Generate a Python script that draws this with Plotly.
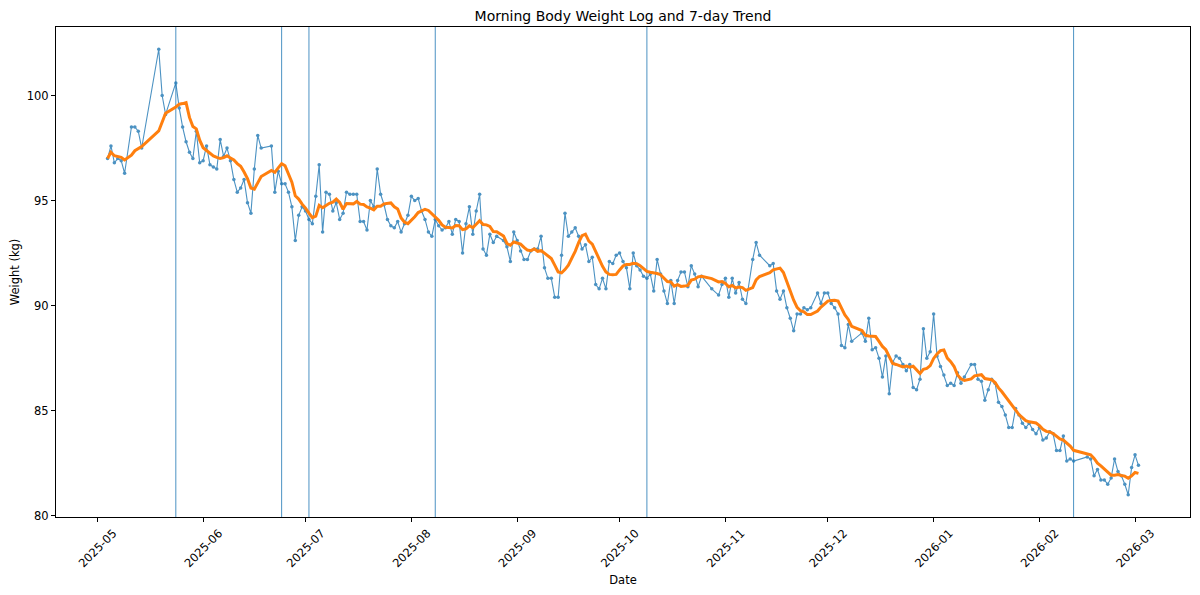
import pandas as pd
import plotly.graph_objects as go

# 每天早上的体重记录 (kg)
dates = [
    "2025-05-04", "2025-05-05", "2025-05-06", "2025-05-07", "2025-05-08", "2025-05-09",
    "2025-05-11", "2025-05-12", "2025-05-13", "2025-05-14", "2025-05-19", "2025-05-20",
    "2025-05-21", "2025-05-24", "2025-05-25", "2025-05-26", "2025-05-27", "2025-05-28",
    "2025-05-29", "2025-05-30", "2025-05-31",
    "2025-06-01", "2025-06-02", "2025-06-03", "2025-06-04", "2025-06-05", "2025-06-06",
    "2025-06-07", "2025-06-08", "2025-06-09", "2025-06-10", "2025-06-11", "2025-06-12",
    "2025-06-13", "2025-06-14", "2025-06-15", "2025-06-16", "2025-06-17", "2025-06-18",
    "2025-06-21", "2025-06-22", "2025-06-23", "2025-06-24", "2025-06-25", "2025-06-26",
    "2025-06-27", "2025-06-28", "2025-06-29", "2025-06-30",
    "2025-07-01", "2025-07-02", "2025-07-03", "2025-07-04", "2025-07-05", "2025-07-06",
    "2025-07-07", "2025-07-08", "2025-07-09", "2025-07-10", "2025-07-11", "2025-07-12",
    "2025-07-13", "2025-07-14", "2025-07-15", "2025-07-16", "2025-07-17", "2025-07-18",
    "2025-07-19", "2025-07-20", "2025-07-21", "2025-07-22", "2025-07-23", "2025-07-24",
    "2025-07-25", "2025-07-26", "2025-07-27", "2025-07-28", "2025-07-29", "2025-07-30",
    "2025-07-31",
    "2025-08-01", "2025-08-02", "2025-08-03", "2025-08-04", "2025-08-05", "2025-08-06",
    "2025-08-07", "2025-08-08", "2025-08-09", "2025-08-10", "2025-08-11", "2025-08-12",
    "2025-08-13", "2025-08-14", "2025-08-15", "2025-08-16", "2025-08-17", "2025-08-18",
    "2025-08-19", "2025-08-20", "2025-08-21", "2025-08-22", "2025-08-23", "2025-08-24",
    "2025-08-25", "2025-08-26", "2025-08-28", "2025-08-29", "2025-08-30", "2025-08-31",
    "2025-09-01", "2025-09-02", "2025-09-03", "2025-09-04", "2025-09-05", "2025-09-06",
    "2025-09-07", "2025-09-08", "2025-09-09", "2025-09-10", "2025-09-11", "2025-09-12",
    "2025-09-13", "2025-09-14", "2025-09-15", "2025-09-16", "2025-09-17", "2025-09-18",
    "2025-09-19", "2025-09-20", "2025-09-21", "2025-09-22", "2025-09-23", "2025-09-24",
    "2025-09-25", "2025-09-26", "2025-09-27", "2025-09-28", "2025-09-29", "2025-09-30",
    "2025-10-01", "2025-10-02", "2025-10-03", "2025-10-04", "2025-10-05", "2025-10-06",
    "2025-10-07", "2025-10-08", "2025-10-09", "2025-10-10", "2025-10-11", "2025-10-12",
    "2025-10-13", "2025-10-14", "2025-10-15", "2025-10-16", "2025-10-17", "2025-10-18",
    "2025-10-19", "2025-10-20", "2025-10-21", "2025-10-22", "2025-10-23", "2025-10-24",
    "2025-10-25", "2025-10-28", "2025-10-30", "2025-10-31",
    "2025-11-01", "2025-11-02", "2025-11-03", "2025-11-04", "2025-11-05", "2025-11-06",
    "2025-11-07", "2025-11-09", "2025-11-10", "2025-11-11", "2025-11-14", "2025-11-15",
    "2025-11-16", "2025-11-17", "2025-11-18", "2025-11-19", "2025-11-20", "2025-11-21",
    "2025-11-22", "2025-11-23", "2025-11-24", "2025-11-25", "2025-11-26", "2025-11-28",
    "2025-11-29", "2025-11-30",
    "2025-12-01", "2025-12-02", "2025-12-03", "2025-12-04", "2025-12-05", "2025-12-06",
    "2025-12-07", "2025-12-08", "2025-12-11", "2025-12-12", "2025-12-13", "2025-12-14",
    "2025-12-15", "2025-12-16", "2025-12-17", "2025-12-18", "2025-12-19", "2025-12-20",
    "2025-12-21", "2025-12-22", "2025-12-23", "2025-12-24", "2025-12-25", "2025-12-26",
    "2025-12-27", "2025-12-28", "2025-12-29", "2025-12-30", "2025-12-31",
    "2026-01-01", "2026-01-02", "2026-01-03", "2026-01-04", "2026-01-05", "2026-01-06",
    "2026-01-07", "2026-01-08", "2026-01-09", "2026-01-10", "2026-01-12", "2026-01-13",
    "2026-01-14", "2026-01-15", "2026-01-16", "2026-01-17", "2026-01-18", "2026-01-19",
    "2026-01-20", "2026-01-21", "2026-01-22", "2026-01-23", "2026-01-24", "2026-01-25",
    "2026-01-26", "2026-01-27", "2026-01-28", "2026-01-29", "2026-01-30", "2026-01-31",
    "2026-02-01", "2026-02-02", "2026-02-03", "2026-02-04", "2026-02-05", "2026-02-06",
    "2026-02-07", "2026-02-08", "2026-02-09", "2026-02-10", "2026-02-11", "2026-02-15",
    "2026-02-16", "2026-02-17", "2026-02-18", "2026-02-19", "2026-02-20", "2026-02-21",
    "2026-02-22", "2026-02-23", "2026-02-24", "2026-02-25", "2026-02-26", "2026-02-27",
    "2026-02-28", "2026-03-01", "2026-03-02",
]

weight_kg = [
    97.0, 97.6, 96.8, 97.0, 96.9, 96.3,
    98.5, 98.5, 98.3, 97.5, 102.2, 100.0,
    99.1, 100.6, 99.4, 98.5, 97.8, 97.3,
    97.0, 98.3, 96.8,
    96.9, 97.6, 96.7, 96.6, 96.5, 97.9,
    97.1, 97.5, 96.9, 96.0, 95.4, 95.6,
    96.0, 94.9, 94.4, 96.5, 98.1, 97.5,
    97.6, 95.4, 96.4, 95.8, 95.8, 95.4,
    94.7, 93.1, 94.3, 94.7,
    94.5, 94.1, 93.9, 95.2, 96.7, 93.5,
    95.4, 95.3, 94.5, 94.9, 94.1, 94.4,
    95.4, 95.3, 95.3, 95.3, 94.0, 94.0,
    93.6, 95.0, 94.7, 96.5, 95.3, 94.8,
    94.1, 93.8, 93.7, 94.0, 93.5, 93.9,
    94.3,
    95.2, 95.0, 95.1, 94.5, 94.1, 93.5,
    93.3, 94.1, 93.8, 93.6, 93.7, 94.0,
    93.4, 94.1, 94.0, 92.5, 93.9, 94.7,
    93.4, 94.5, 95.3, 92.7, 92.4, 93.4,
    93.0, 93.3, 93.1, 92.8, 92.1, 93.5,
    93.1, 92.6, 92.2, 92.2, 92.6, 92.7,
    92.7, 93.3, 91.8, 91.3, 91.3, 90.4,
    90.4, 92.4, 94.4, 93.3, 93.5, 93.7,
    93.3, 92.7, 92.9, 92.1, 92.3, 91.0,
    90.8, 91.3, 90.8, 92.1, 92.0, 92.4,
    92.5, 92.1, 91.8, 90.8, 92.5, 91.9,
    91.7, 91.4, 91.3, 91.5, 90.7, 92.2,
    91.5, 90.7, 90.1, 91.2, 90.1, 91.2,
    91.6, 91.6, 90.9, 91.9, 91.5, 90.9,
    91.4, 90.8, 90.5, 91.0,
    91.3, 90.4, 91.3, 90.6, 91.1, 90.3,
    90.1, 92.2, 93.0, 92.4, 91.9, 92.0,
    90.7, 90.3, 90.7, 89.9, 89.4, 88.8,
    89.6, 89.6, 89.9, 89.8, 89.9, 90.6,
    90.1, 90.6,
    90.6, 90.1, 89.9, 89.6, 88.1, 88.0,
    89.1, 88.3, 88.7, 88.3, 89.4, 87.9,
    88.0, 87.5, 86.6, 87.6, 85.8, 87.3,
    87.6, 87.5, 87.2, 86.9, 87.2, 86.1,
    86.0, 86.5, 88.9, 87.5, 87.8,
    89.6, 87.6, 87.1, 86.7, 86.2, 86.3,
    86.2, 86.8, 86.3, 86.6, 87.2, 87.2,
    86.5, 86.4, 85.5, 86.0, 86.5, 86.3,
    85.4, 85.2, 84.8, 84.2, 84.2, 85.1,
    84.8, 84.4, 84.2, 84.4, 84.1, 83.9,
    84.2, 83.6, 83.7, 84.0, 83.9, 83.1,
    83.1, 83.8, 82.6, 82.7, 82.6, 82.8,
    82.7, 81.9, 82.2, 81.7, 81.7, 81.5,
    81.8, 82.7, 82.1, 81.9, 81.5, 81.0,
    82.3, 82.9, 82.4,
]

# 竖线标记的日期
marker_dates = ["2025-05-24", "2025-06-24", "2025-07-02", "2025-08-08", "2025-10-09", "2026-02-11"]

# x轴刻度
tick_dates = ["2025-05-01", "2025-06-01", "2025-07-01", "2025-08-01", "2025-09-01", "2025-10-01",
              "2025-11-01", "2025-12-01", "2026-01-01", "2026-02-01", "2026-03-01"]
tick_labels = ["2025-05", "2025-06", "2025-07", "2025-08", "2025-09", "2025-10",
               "2025-11", "2025-12", "2026-01", "2026-02", "2026-03"]

df = pd.DataFrame({"date": pd.to_datetime(dates), "weight": weight_kg})
# 7天趋势 (滚动平均)
df["trend"] = df["weight"].rolling(7, min_periods=1).mean()

font = "DejaVu Sans, Liberation Sans, sans-serif"

fig = go.Figure()
fig.add_trace(go.Scatter(
    x=df["date"], y=df["weight"], mode="lines+markers", name="Weight",
    line=dict(color="#1f77b4", width=1.1),
    marker=dict(color="#1f77b4", size=3.5),
    opacity=0.8,
))
fig.add_trace(go.Scatter(
    x=df["date"], y=df["trend"], mode="lines", name="7-day trend",
    line=dict(color="#ff7f0e", width=3),
))

for d in marker_dates:
    fig.add_shape(type="line", xref="x", yref="paper", x0=d, x1=d, y0=0, y1=1,
                  line=dict(color="rgba(31,119,180,0.8)", width=1), layer="below")

# 上下左右留 5% 边距, 和 matplotlib 默认一致
span = df["date"].max() - df["date"].min()
x_range = [df["date"].min() - span * 0.05, df["date"].max() + span * 0.05]
y_pad = (df["weight"].max() - df["weight"].min()) * 0.05
y_range = [df["weight"].min() - y_pad, df["weight"].max() + y_pad]

axis_style = dict(showline=True, mirror=True, linecolor="black", linewidth=1,
                  ticks="outside", ticklen=4, tickcolor="black",
                  showgrid=False, zeroline=False, automargin=False,
                  tickfont=dict(family=font, size=11.5, color="black"))

# 页面 body 有 8px 的默认边距, 图的尺寸和留白按这个来
W, H = 1192, 587
fig.update_layout(
    width=W, height=H, autosize=False,
    margin=dict(l=48, r=10, t=19, b=78),
    plot_bgcolor="white", paper_bgcolor="white",
    showlegend=False,
    font=dict(family=font, color="black"),
    title=dict(text="Morning Body Weight Log and 7-day Trend", x=0.5, xref="paper",
               y=1 - 8 / H, yref="container", yanchor="middle",
               font=dict(family=font, size=14, color="black")),
)
fig.update_xaxes(**axis_style, type="date", range=x_range,
                 tickvals=tick_dates, ticktext=tick_labels, tickangle=-45,
                 ticklabelshift=16,
                 title=dict(text="Date", font=dict(family=font, size=11.5), standoff=6))
fig.update_yaxes(**axis_style, range=y_range, dtick=5,
                 title=dict(text="Weight (kg)", font=dict(family=font, size=11.5), standoff=4))

fig.write_html("out.html")
